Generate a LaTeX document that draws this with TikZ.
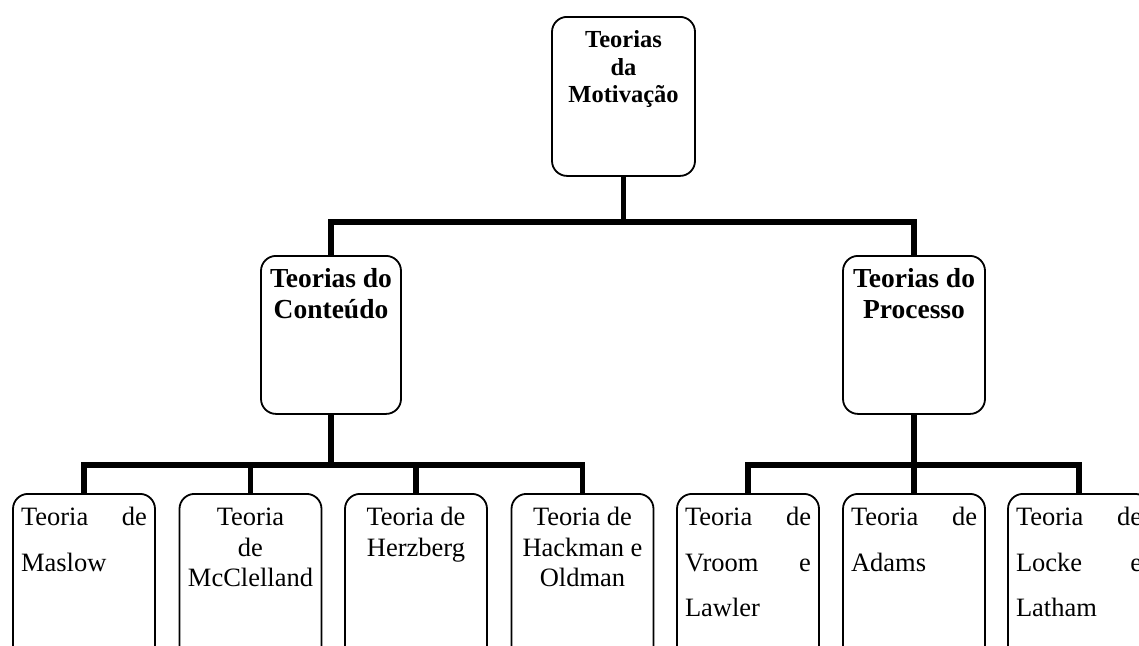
\documentclass[tikz,border=0pt]{standalone}
\usepackage{fontspec}
\setmainfont{Liberation Serif}
\newcommand\bxt[6]{\parbox[c][#2][t]{#1}{\fontsize{#3}{#4}\selectfont\rule{0pt}{#5}#6}}
\begin{document}
\begin{tikzpicture}[x=1pt,y=-1pt,
  box/.style={draw, line width=1.8pt, rounded corners=15pt, inner xsep=8pt, inner ysep=0pt, anchor=north},
  conn/.style={line width=5.5pt}]
\useasboundingbox (0,0) rectangle (1139,645);
\clip (0,0) rectangle (1139,645);
% root
\node[box] (root) at (623.5,16) {\bxt{127pt}{159pt}{24.5}{27.5}{31pt}{\centering\bfseries Teorias\\da\\Motivação}};
% middle
\node[box] (cont) at (331,255) {\bxt{124pt}{158pt}{27.5}{31}{32pt}{\centering\bfseries Teorias do\\Conteúdo}};
\node[box] (proc) at (914,255) {\bxt{126pt}{158pt}{27.5}{31}{32pt}{\centering\bfseries Teorias do\\Processo}};
% leaves
\node[box] (maslow) at (84,493) {\bxt{126pt}{170pt}{26.5}{45.5}{32pt}{Teoria\hfill de\\Maslow}};
\node[box] (mccl) at (250.5,493) {\bxt{126pt}{170pt}{26.5}{30.5}{32pt}{\centering Teoria\\de\\McClelland}};
\node[box] (herz) at (416,493) {\bxt{126pt}{170pt}{26.5}{30.5}{32pt}{\centering Teoria de\\Herzberg}};
\node[box] (hack) at (582.5,493) {\bxt{126pt}{170pt}{26.5}{30.5}{32pt}{\centering Teoria de\\Hackman e\\Oldman}};
\node[box] (vroom) at (748,493) {\bxt{126pt}{170pt}{26.5}{45.5}{32pt}{Teoria\hfill de\\Vroom\hfill e\\Lawler}};
\node[box] (adams) at (914,493) {\bxt{126pt}{170pt}{26.5}{45.5}{32pt}{Teoria\hfill de\\Adams}};
\node[box] (locke) at (1079,493) {\bxt{126pt}{170pt}{26.5}{45.5}{32pt}{Teoria\hfill de\\Locke\hfill e\\Latham}};
% bars
\coordinate (b1) at (0,222);
\coordinate (b2) at (0,465);
\draw[conn] (root.south) -- (root.south |- b1);
\draw[conn] (cont.north) -- (cont.north |- b1) -- (proc.north |- b1) -- (proc.north);
\draw[conn] (cont.south) -- (cont.south |- b2);
\draw[conn] (maslow.north) -- (maslow.north |- b2) -- (hack.north |- b2) -- (hack.north);
\draw[conn] (mccl.north) -- (mccl.north |- b2);
\draw[conn] (herz.north) -- (herz.north |- b2);
\draw[conn] (proc.south) -- (proc.south |- b2);
\draw[conn] (vroom.north) -- (vroom.north |- b2) -- (locke.north |- b2) -- (locke.north);
\draw[conn] (adams.north) -- (adams.north |- b2);
\end{tikzpicture}
\end{document}
